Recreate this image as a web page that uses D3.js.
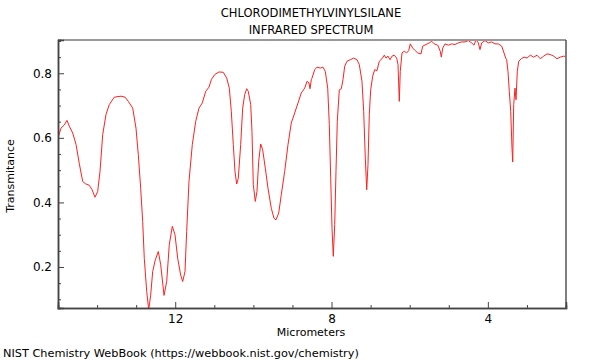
<!DOCTYPE html>
<html><head><meta charset="utf-8">
<script src="https://cdn.jsdelivr.net/npm/d3@7"></script>
<style>body{margin:0;background:#fff}text{font-family:"DejaVu Sans",sans-serif}</style>
</head><body>
<svg id="c" width="600" height="360"></svg>
<script>
const titleLines = ["CHLORODIMETHYLVINYLSILANE", "INFRARED SPECTRUM"];
const xLabel = "Micrometers";
const yLabel = "Transmitance";
const credit = "NIST Chemistry WebBook (https://webbook.nist.gov/chemistry)";
const xTicks = [12, 8, 4];
const yTicks = [0.2, 0.4, 0.6, 0.8];

// wavelength (micrometers)
const wavelength = [15.0,14.923,14.839,14.770,14.711,14.624,14.539,14.455,14.368,14.301,14.199,14.130,14.053,13.984,13.925,13.856,13.772,13.687,13.559,13.388,
13.285,13.201,13.088,13.004,12.945,12.884,12.833,12.792,12.730,12.679,12.628,12.577,12.510,12.433,12.372,12.287,12.218,12.152,12.075,12.006,11.937,11.860,11.809,11.750,
11.707,11.648,11.563,11.476,11.392,11.307,11.220,11.136,11.077,10.990,10.880,10.770,10.683,10.616,10.565,10.514,10.471,10.427,10.386,10.325,10.274,10.222,10.171,10.130,
10.069,10.036,10.002,9.951,9.908,9.864,9.813,9.762,9.695,9.626,9.542,9.473,9.421,9.352,9.286,9.199,9.114,9.030,8.943,8.858,8.774,8.687,8.628,8.577,8.551,8.518,8.500,
8.431,8.372,8.288,8.219,8.160,8.098,8.057,8.021,7.988,7.955,7.919,7.886,7.853,7.801,7.750,7.707,7.663,7.605,7.520,7.433,7.348,7.290,7.221,7.177,7.136,7.100,7.067,7.034,6.998,6.947,6.896,6.837,
6.778,6.709,6.650,6.606,6.555,6.504,6.453,6.394,6.333,6.299,6.266,6.241,6.197,6.138,6.077,6.026,5.985,5.923,5.857,5.795,5.711,5.667,5.583,5.498,5.437,5.371,5.283,5.217,
5.191,5.155,5.096,5.012,4.925,4.841,4.756,4.669,4.585,4.500,4.413,4.354,4.303,4.244,4.201,4.158,4.073,3.988,3.902,3.817,3.733,3.646,3.587,
3.543,3.518,3.485,3.451,3.415,3.382,3.364,3.338,3.305,3.279,3.246,3.210,3.144,3.075,2.998,2.914,2.826,2.742,2.658,2.571,2.486,2.402,2.315,2.231,2.146,2.059,2.026];
// transmittance
const transmittance = [0.600,0.630,0.640,0.654,0.636,0.615,0.580,0.520,0.465,0.458,0.453,0.440,0.416,0.434,0.496,0.610,0.672,0.703,0.726,0.729,
0.726,0.713,0.692,0.630,0.548,0.444,0.341,0.227,0.124,0.068,0.113,0.186,0.222,0.248,0.207,0.112,0.155,0.269,0.326,0.300,0.227,0.175,0.155,0.186,
0.310,0.465,0.579,0.651,0.692,0.708,0.744,0.757,0.780,0.796,0.804,0.803,0.785,0.754,0.682,0.579,0.496,0.457,0.475,0.579,0.692,0.734,0.752,0.744,
0.703,0.620,0.455,0.403,0.434,0.527,0.581,0.563,0.506,0.444,0.382,0.351,0.346,0.367,0.424,0.496,0.579,0.646,0.677,0.708,0.739,0.754,0.775,0.770,0.752,0.780,0.785,
0.811,0.819,0.816,0.819,0.806,0.754,0.641,0.475,0.320,0.233,0.331,0.496,0.651,0.749,0.752,0.780,0.822,0.837,0.842,0.847,0.842,0.827,0.775,0.682,0.537,0.439,0.517,0.672,0.749,0.791,0.811,0.808,
0.837,0.845,0.856,0.847,0.853,0.842,0.853,0.856,0.847,0.827,0.713,0.806,0.863,0.868,0.863,0.870,0.891,0.878,0.870,0.863,0.860,0.884,0.889,0.894,0.899,0.891,0.887,0.868,
0.850,0.878,0.891,0.887,0.891,0.889,0.894,0.897,0.897,0.901,0.894,0.887,0.904,0.894,0.873,0.894,0.901,0.894,0.897,0.891,0.891,0.884,0.863,
0.847,0.842,0.806,0.744,0.682,0.568,0.525,0.703,0.754,0.718,0.806,0.837,0.845,0.850,0.847,0.856,0.850,0.856,0.845,0.853,0.860,0.858,0.853,0.845,0.850,0.853,0.852];

const svg = d3.select("#c");
const L = 58, R = 566, T = 40, B = 308;
const x = d3.scaleLinear().domain([15, 2]).range([L, R]);
const y = d3.scaleLinear().domain([0.073, 0.903]).range([B, T]);

svg.append("defs").append("clipPath").attr("id", "clip")
  .append("rect").attr("x", L).attr("y", T).attr("width", R - L).attr("height", B - T);

const pts = wavelength.map((w, i) => [w, transmittance[i]]);
svg.append("path").datum(pts)
  .attr("clip-path", "url(#clip)")
  .attr("fill", "none").attr("stroke", "#ff2020").attr("stroke-width", 1)
  .attr("d", d3.line().x(d => x(d[0])).y(d => y(d[1])));

// frame
svg.append("line").attr("x1", L).attr("x2", R).attr("y1", T).attr("y2", T).attr("stroke", "#999").attr("stroke-width", 2);
svg.append("line").attr("x1", R).attr("x2", R).attr("y1", T).attr("y2", B).attr("stroke", "#555").attr("stroke-width", 1.5);

// axes
const minorX = d3.range(3, 16, 1).filter(v => !xTicks.includes(v));
const minorY = d3.range(0.1, 0.901, 0.05).map(v => +v.toFixed(2)).filter(v => !yTicks.includes(v));

const gx = svg.append("g").attr("transform", `translate(0,${B})`);
gx.call(d3.axisTop(x).tickValues(xTicks).tickSize(6).tickFormat(""));
gx.append("g").call(d3.axisTop(x).tickValues(minorX).tickSize(3).tickFormat(""));
gx.selectAll(".domain").attr("stroke", "#444").attr("stroke-width", 1.5);
gx.selectAll("line").attr("stroke", "#444");
svg.append("g").attr("transform", `translate(0,${B})`)
  .call(d3.axisBottom(x).tickValues(xTicks).tickSize(0).tickPadding(6).tickFormat(d3.format("d")))
  .call(g => g.select(".domain").remove())
  .selectAll("text").attr("font-size", 12).attr("fill", "#000").attr("font-family", "DejaVu Sans");

const gy = svg.append("g").attr("transform", `translate(${L},0)`);
gy.call(d3.axisRight(y).tickValues(yTicks).tickSize(6).tickFormat(""));
gy.append("g").call(d3.axisRight(y).tickValues(minorY).tickSize(3).tickFormat(""));
gy.selectAll(".domain").attr("stroke", "#444").attr("stroke-width", 1.5);
gy.selectAll("line").attr("stroke", "#444");
svg.append("g").attr("transform", `translate(${L},0)`)
  .call(d3.axisLeft(y).tickValues(yTicks).tickSize(0).tickPadding(6).tickFormat(d3.format(".1f")))
  .call(g => g.select(".domain").remove())
  .selectAll("text").attr("font-size", 12).attr("fill", "#000").attr("font-family", "DejaVu Sans");

// texts
svg.selectAll(".title").data(titleLines).enter().append("text")
  .attr("x", 311).attr("y", (d, i) => 17 + i * 17).attr("text-anchor", "middle")
  .attr("font-size", 11.5).text(d => d);
svg.append("text").attr("x", 311).attr("y", 336).attr("text-anchor", "middle").attr("font-size", 11).text(xLabel);
svg.append("text").attr("transform", "translate(14,176) rotate(-90)").attr("text-anchor", "middle").attr("font-size", 11).text(yLabel);
svg.append("text").attr("x", 3).attr("y", 357).attr("font-size", 11.3).text(credit);
</script>
</body></html>
